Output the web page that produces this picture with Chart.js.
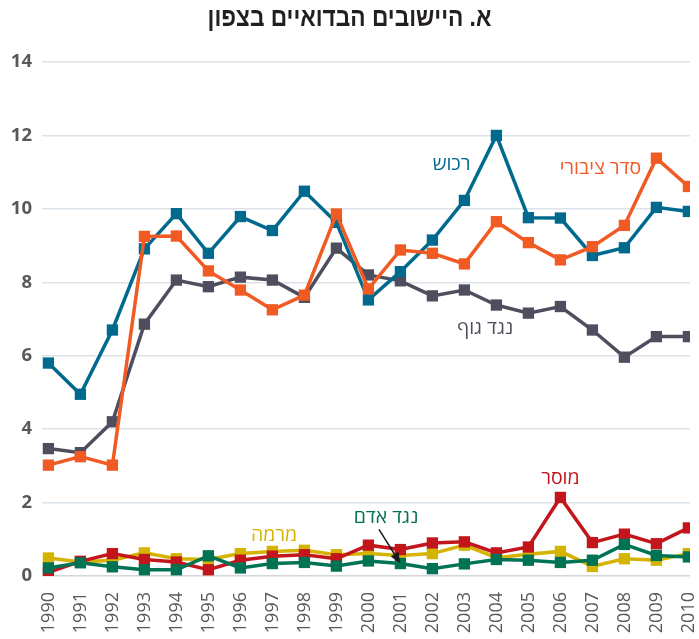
<!DOCTYPE html>
<html lang="he">
<head>
<meta charset="utf-8">
<script src="https://cdn.jsdelivr.net/npm/chart.js@4/dist/chart.umd.min.js"></script>
<style>
  html, body { margin: 0; padding: 0; background: #fff; }
  #wrap { width: 699px; height: 639px; position: relative; }
</style>
</head>
<body>
<div id="wrap"><canvas id="crimeChart"></canvas></div>
<script>
const years = [1990, 1991, 1992, 1993, 1994, 1995, 1996, 1997, 1998, 1999, 2000,
               2001, 2002, 2003, 2004, 2005, 2006, 2007, 2008, 2009, 2010];
const yTicks = [0, 2, 4, 6, 8, 10, 12, 14];

const property     = [5.8, 4.95, 6.7, 8.91, 9.87, 8.79, 9.79, 9.41, 10.48, 9.63, 7.52, 8.29, 9.15, 10.23, 12.0, 9.76, 9.75, 8.73, 8.94, 10.04, 9.93];
const publicOrder  = [3.02, 3.25, 3.02, 9.25, 9.26, 8.31, 7.79, 7.25, 7.65, 9.86, 7.82, 8.88, 8.79, 8.5, 9.65, 9.08, 8.61, 8.97, 9.55, 11.38, 10.61];
const againstBody  = [3.47, 3.36, 4.2, 6.86, 8.06, 7.88, 8.14, 8.06, 7.59, 8.93, 8.2, 8.04, 7.63, 7.79, 7.38, 7.16, 7.34, 6.7, 5.96, 6.52, 6.52];
const morality     = [0.1, 0.4, 0.61, 0.45, 0.38, 0.17, 0.43, 0.54, 0.58, 0.47, 0.84, 0.72, 0.9, 0.93, 0.63, 0.79, 2.14, 0.91, 1.14, 0.88, 1.31];
const fraud        = [0.49, 0.38, 0.43, 0.63, 0.47, 0.45, 0.61, 0.67, 0.7, 0.58, 0.61, 0.56, 0.61, 0.84, 0.5, 0.59, 0.67, 0.26, 0.47, 0.43, 0.61];
const againstPerson= [0.22, 0.36, 0.25, 0.17, 0.17, 0.55, 0.22, 0.34, 0.37, 0.27, 0.41, 0.34, 0.2, 0.33, 0.45, 0.43, 0.37, 0.43, 0.86, 0.56, 0.52];

const titleText = "א. היישובים הבדואיים בצפון";

// series labels placed in data space (year, value)
const seriesLabels = [
    { text: "רכוש", color: "#006a8e", x: 2002.6, y: 11.2 },
    { text: "סדר ציבורי", color: "#f15a22", x: 2007.25, y: 11.1 },
    { text: "נגד גוף", color: "#4f4e5e", x: 2003.65, y: 6.75 },
    { text: "מוסר", color: "#c3161c", x: 2006.0, y: 2.66 },
    { text: "נגד אדם", color: "#007355", x: 2000.55, y: 1.6 },
    { text: "מרמה", color: "#d4b400", x: 1997.05, y: 1.11 }
];

function series(label, values, color) {
    return {
        label: label,
        data: values.map((v, i) => ({ x: years[i], y: v })),
        borderColor: color,
        backgroundColor: color,
        borderWidth: 3.5,
        pointStyle: 'rect',
        pointRadius: 8,
        pointHoverRadius: 8,
        pointBorderWidth: 0,
        pointBackgroundColor: color,
        tension: 0
    };
}

const labelPlugin = {
    id: 'labelPlugin',
    afterDraw(chart) {
        const ctx = chart.ctx;
        const xs = chart.scales.x, ys = chart.scales.y;
        ctx.save();
        // title, squeezed a bit to look condensed
        ctx.save();
        ctx.fillStyle = "#231f20";
        ctx.font = "bold 27px 'Liberation Sans', sans-serif";
        ctx.textAlign = "center";
        ctx.textBaseline = "middle";
        ctx.direction = "rtl";
        ctx.translate(chart.width / 2, 19);
        ctx.scale(0.84, 1);
        ctx.fillText(titleText, 0, 0);
        ctx.restore();

        ctx.font = "500 19.5px 'Open Sans', 'Liberation Sans', sans-serif";
        ctx.textAlign = "center";
        ctx.textBaseline = "middle";
        ctx.direction = "rtl";
        seriesLabels.forEach(l => {
            ctx.fillStyle = l.color;
            ctx.fillText(l.text, xs.getPixelForValue(l.x), ys.getPixelForValue(l.y));
        });

        // arrow from green label to 2001 point
        const x0 = xs.getPixelForValue(2000.33), y0 = ys.getPixelForValue(1.27);
        const x1 = xs.getPixelForValue(2001), y1 = ys.getPixelForValue(againstPerson[11]);
        const ang = Math.atan2(y1 - y0, x1 - x0);
        ctx.strokeStyle = "#1a1a1a";
        ctx.fillStyle = "#1a1a1a";
        ctx.lineWidth = 1.5;
        ctx.beginPath();
        ctx.moveTo(x0, y0);
        ctx.lineTo(x1 - 8 * Math.cos(ang), y1 - 8 * Math.sin(ang));
        ctx.stroke();
        ctx.beginPath();
        ctx.moveTo(x1, y1);
        ctx.lineTo(x1 - 11 * Math.cos(ang) + 4.5 * Math.sin(ang), y1 - 11 * Math.sin(ang) - 4.5 * Math.cos(ang));
        ctx.lineTo(x1 - 11 * Math.cos(ang) - 4.5 * Math.sin(ang), y1 - 11 * Math.sin(ang) + 4.5 * Math.cos(ang));
        ctx.closePath();
        ctx.fill();
        ctx.restore();
    }
};

const ctx = document.getElementById('crimeChart').getContext('2d');
new Chart(ctx, {
    type: 'line',
    data: {
        datasets: [
            series("סדר ציבורי", publicOrder, "#f15a22"),
            series("רכוש", property, "#006a8e"),
            series("נגד גוף", againstBody, "#4f4e5e"),
            series("נגד אדם", againstPerson, "#007355"),
            series("מוסר", morality, "#c3161c"),
            series("מרמה", fraud, "#d4b400")
        ]
    },
    options: {
        responsive: true,
        maintainAspectRatio: false,
        animation: false,
        layout: { padding: { top: 62, right: 9, left: 0, bottom: 0 } },
        plugins: { legend: { display: false }, title: { display: false }, tooltip: { enabled: false } },
        scales: {
            x: {
                type: 'linear',
                min: 1989.8,
                max: 2010.05,
                grid: { display: false, drawTicks: false },
                border: { display: false },
                afterBuildTicks: s => { s.ticks = years.map(v => ({ value: v })); },
                afterFit: s => { s.height = 63; s.paddingLeft = 0; s.paddingRight = 0; },
                ticks: {
                    minRotation: 90,
                    maxRotation: 90,
                    autoSkip: false,
                    padding: 16,
                    color: "#58595b",
                    font: { family: "'Open Sans', 'Liberation Sans', sans-serif", size: 18 },
                    callback: v => String(v)
                }
            },
            y: {
                min: 0,
                max: 14,
                afterBuildTicks: s => { s.ticks = yTicks.map(v => ({ value: v })); },
                afterFit: s => { s.width = 42; s.paddingTop = 0; s.paddingBottom = 0; },
                grid: {
                    color: c => (c.tick && c.tick.value === 0 ? "#d4d6d8" : "#dbe4ea"),
                    lineWidth: 1.5,
                    drawTicks: false
                },
                border: { display: false },
                ticks: {
                    padding: 10,
                    color: "#58595b",
                    font: { family: "'Open Sans', 'Liberation Sans', sans-serif", size: 18.5, weight: 'bold' }
                }
            }
        }
    },
    plugins: [labelPlugin]
});
</script>
</body>
</html>
